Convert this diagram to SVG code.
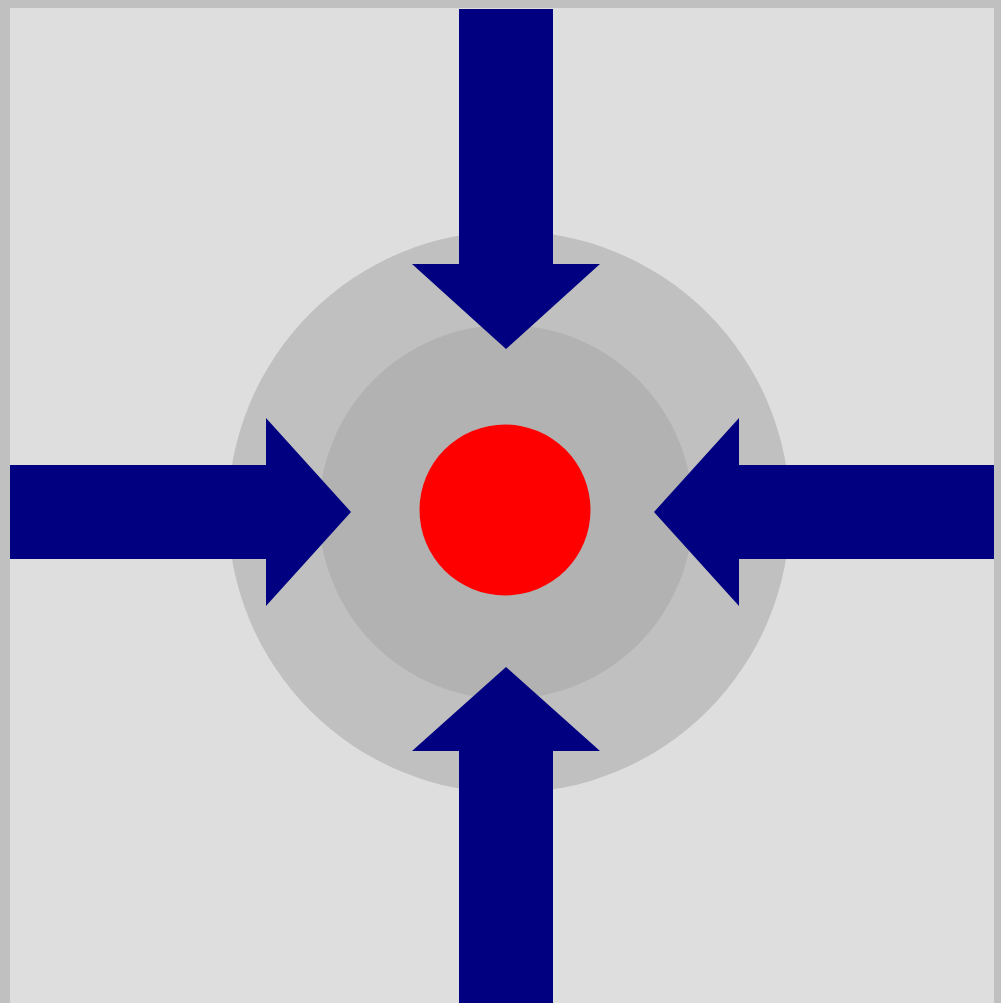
<svg xmlns="http://www.w3.org/2000/svg" width="1001" height="1003" viewBox="0 0 1001 1003">
<style>
.arrow{fill:#000080}
</style>
<rect x="0" y="0" width="1001" height="1003" fill="#C0C0C0"/>
<rect x="10" y="8" width="984" height="995" fill="#DEDEDE"/>
<g id="outer-ring"><circle cx="509" cy="512" r="281" fill="#C0C0C0"/></g>
<g id="inner-ring"><circle cx="506" cy="512" r="187" fill="#B2B2B2"/></g>
<g id="center"><circle cx="505" cy="510" r="85.5" fill="#FF0000"/></g>
<g id="connectors">
<polygon class="arrow" points="459,9 553,9 553,264 600,264 506,349 412,264 459,264"/>
<polygon class="arrow" points="459,1003 553,1003 553,751 600,751 506,667 412,751 459,751"/>
<polygon class="arrow" points="10,465 266,465 266,418 351,512 266,606 266,559 10,559"/>
<polygon class="arrow" points="994,465 739,465 739,418 654,512 739,606 739,559 994,559"/>
</g>
</svg>
